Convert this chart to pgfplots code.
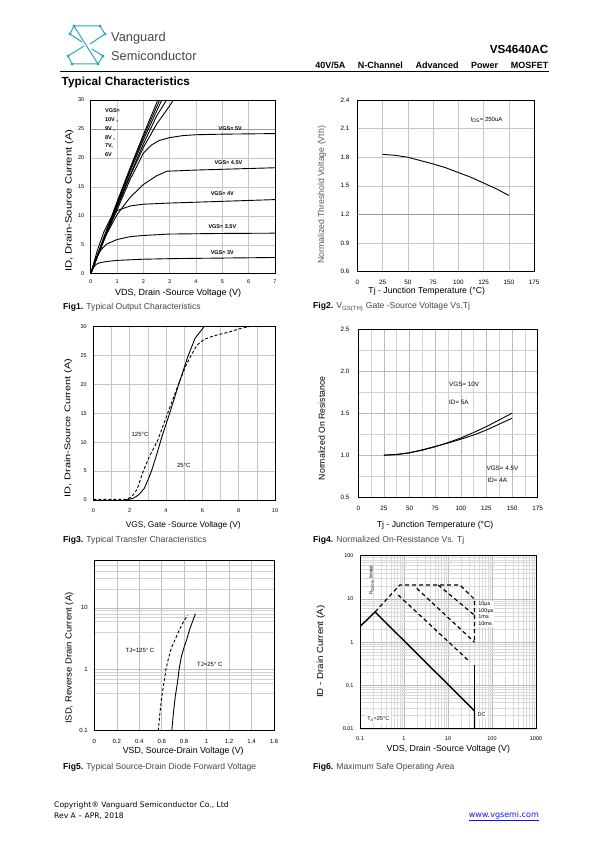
\documentclass[border=0pt]{standalone}
\usepackage{pgfplots}
\pgfplotsset{compat=1.18}
\usepackage{fontspec}
\setmainfont{Liberation Sans}
\newfontfamily\vfont{DejaVu Sans}
\usepackage{graphicx}
\definecolor{logo}{RGB}{40,168,190}
\definecolor{txtgray}{RGB}{70,70,70}
\definecolor{linkblue}{RGB}{20,20,230}
\tikzset{ann/.style={font=\fontsize{6}{7}\selectfont, inner sep=0.5pt},
         figcap/.style={anchor=west, font=\fontsize{8.6}{10}\selectfont, inner sep=0pt}}
\pgfplotsset{
  ds/.style={scale only axis, anchor=south west, clip=true,
    axis line style={black, line width=0.9pt},
    major tick length=0pt, minor tick length=0pt,
    tick label style={font=\fontsize{6}{7}\selectfont},
    yticklabel style={xshift=-3pt},
    label style={font=\fontsize{8.8}{10}\selectfont},
    /pgf/number format/assume math mode=true,
    major grid style={draw=gray!45, line width=0.5pt},
    minor grid style={draw=gray!30, line width=0.4pt},
    every axis x label/.style={at={(axis description cs:0.5,0)}, anchor=center},
    every axis y label/.style={at={(axis description cs:0,0.5)}, anchor=center, rotate=90},
    every axis plot/.append style={black, line width=0.9pt, mark=none},
    cycle list={{black, solid, line width=0.9pt, mark=none}},
  },
}
\begin{document}
\begin{tikzpicture}
\fill[white] (0,0) rectangle (595pt,-842pt);
\path[use as bounding box] (0,0) rectangle (595pt,-842pt);

% ---------- header ----------
\begin{scope}[logo, line width=1pt]
\draw (74pt,-26pt) -- (100pt,-26pt) -- (105pt,-34pt) -- (90pt,-44pt);
\draw (74pt,-26pt) -- (98pt,-64pt);
\draw (74pt,-26pt) -- (70pt,-34pt) -- (82pt,-42pt);
\draw (98pt,-64pt) -- (72pt,-64pt) -- (68pt,-56pt) -- (84pt,-46pt);
\draw (98pt,-64pt) -- (103pt,-56pt) -- (92pt,-49pt);
\foreach \p in {(74pt,-26pt),(100pt,-26pt),(105pt,-34pt),(70pt,-34pt),(98pt,-64pt),(72pt,-64pt),(68pt,-56pt),(103pt,-56pt)}
  \fill \p circle (1.6pt);
\end{scope}
\node[anchor=west, inner sep=0pt, text=txtgray, font=\fontsize{12.8}{14}\selectfont] at (111pt,-38.5pt) {Vanguard};
\node[anchor=west, inner sep=0pt, text=txtgray, font=\fontsize{12.8}{14}\selectfont] at (111pt,-55.5pt) {Semiconductor};
\node[anchor=east, inner sep=0pt, font=\bfseries\fontsize{11.7}{13}\selectfont] at (548.5pt,-49.5pt) {VS4640AC};
\node[anchor=east, inner sep=0pt, font=\bfseries\fontsize{9}{10}\selectfont] at (548.5pt,-65pt) {\makebox[233pt][s]{40V/5A N-Channel Advanced Power MOSFET}};
\draw[black, line width=0.7pt] (60pt,-71.5pt) -- (549pt,-71.5pt);
\node[anchor=west, inner sep=0pt, font=\bfseries\fontsize{11.8}{13}\selectfont] at (61.5pt,-82.5pt) {Typical Characteristics};

% ---------- Fig 1 ----------
\begin{axis}[ds, at={(90.7pt,-273.7pt)}, width=184.3pt, height=173.7pt,
  xmin=0, xmax=7, ymin=0, ymax=30, xtick={0,...,7}, ytick={0,5,...,30},
  grid=major, tick label style={font=\fontsize{5.5}{6}\selectfont},
  xticklabel style={yshift=-2pt},
  xlabel={VDS, Drain -Source Voltage (V)},
  ylabel={\scalebox{1.25}[1]{ID, Drain-Source Current (A)}},
  xlabel style={at={(axis description cs:0.474,-0.11)}, font=\fontsize{9}{10}\selectfont},
  ylabel style={at={(axis description cs:-0.116,0.421)}, font=\fontsize{9}{10}\selectfont}]
\draw[gray!80, line width=0.6pt] (axis cs:0,25) -- (axis cs:7,25);
\addplot coordinates {(0,0)(0.5,6.3)(1,12.4)(1.5,18.3)(2,24)(2.55,30)};
\addplot coordinates {(0,0)(0.5,6.2)(1,12.2)(1.5,18)(2,23.6)(2.62,30)};
\addplot coordinates {(0,0)(0.5,6.1)(1,12)(1.5,17.7)(2,23.1)(2.7,30)};
\addplot coordinates {(0,0)(0.5,6)(1,11.7)(1.5,17.1)(2,22.4)(2.5,27.2)(2.88,30)};
\addplot coordinates {(0,0)(0.5,5.9)(1,11.4)(1.5,16.9)(2,21.8)(2.5,25.8)(3,29)(3.14,30)};
\addplot coordinates {(0,0)(0.5,5.8)(1,11)(1.5,16.3)(2,20.8)(2.3,22.2)(2.6,23)(3,23.5)(3.5,23.85)(4,24)(5,24.1)(7,24.2)};
\addplot coordinates {(0,0)(0.3,3.5)(0.6,6.8)(1,10.2)(1.5,13.2)(2,15.4)(2.5,16.9)(2.9,17.7)(4,17.9)(7,18.3)};
\addplot coordinates {(0,0)(0.25,4)(0.5,7.2)(0.75,9.5)(1,10.9)(1.5,11.7)(2,12)(3,12.2)(5,12.5)(7,12.8)};
\addplot coordinates {(0,0)(0.2,2.6)(0.4,4.2)(0.6,5.1)(1,5.9)(1.5,6.4)(2,6.6)(3,6.85)(5,6.95)(7,7.0)};
\addplot coordinates {(0,0)(0.1,1)(0.2,1.6)(0.35,1.9)(0.6,2.1)(1,2.3)(2,2.5)(3,2.6)(5,2.7)(7,2.8)};
\node[ann, anchor=north west, align=left, font=\bfseries\fontsize{5.5}{8.8}\selectfont] at (axis cs:0.52,28.6) {VGS=\\10V ,\\9V ,\\8V ,\\7V,\\6V};
\node[ann, font=\bfseries\fontsize{5.5}{6}\selectfont] at (axis cs:5.3,25.1) {VGS= 5V};
\node[ann, font=\bfseries\fontsize{5.5}{6}\selectfont] at (axis cs:5.23,19.2) {VGS= 4.5V};
\node[ann, font=\bfseries\fontsize{5.5}{6}\selectfont] at (axis cs:5.0,13.8) {VGS= 4V};
\node[ann, font=\bfseries\fontsize{5.5}{6}\selectfont] at (axis cs:5.0,8.1) {VGS= 3.5V};
\node[ann, font=\bfseries\fontsize{5.5}{6}\selectfont] at (axis cs:5.0,3.7) {VGS= 3V};
\end{axis}
\node[figcap] at (63pt,-307pt) {\textbf{Fig1.} \textcolor{txtgray}{Typical Output Characteristics}};

% ---------- Fig 2 ----------
\begin{axis}[ds, at={(357.3pt,-271.7pt)}, width=176.7pt, height=171.7pt,
  xmin=0, xmax=175, ymin=0.6, ymax=2.4, xtick={0,25,...,175},
  ytick={0.6,0.9,1.2,1.5,1.8,2.1,2.4}, yticklabels={0.6,0.9,1.2,1.5,1.8,2.1,2.4},
  grid=major, tick label style={font=\fontsize{6.3}{7}\selectfont},
  xticklabel style={yshift=-5pt}, yticklabel style={xshift=-1.5pt},
  xlabel={Tj - Junction Temperature (°C)},
  ylabel={Normalized Threshold Voltage (Vth)},
  xlabel style={at={(axis description cs:0.393,-0.112)}, font=\fontsize{8.7}{10}\selectfont},
  ylabel style={at={(axis description cs:-0.201,0.447)}, font=\fontsize{8.7}{10}\selectfont, text=black!65}]
\draw[gray!80, line width=0.6pt] (axis cs:0,1.2) -- (axis cs:175,1.2);
\addplot coordinates {(25,1.83)(37.5,1.82)(50,1.80)(62.5,1.765)(75,1.73)(87.5,1.69)(100,1.64)(112.5,1.59)(125,1.53)(137.5,1.47)(150,1.40)};
\node[ann, font=\fontsize{6}{7}\selectfont] at (axis cs:128,2.19) {I\textsubscript{DS}= 250uA};
\end{axis}
\node[figcap] at (313pt,-307pt) {\textbf{Fig2.} \textcolor{txtgray}{V\textsubscript{GS(TH)} Gate -Source Voltage Vs.Tj}};

% ---------- Fig 3 ----------
\begin{axis}[ds, at={(93.3pt,-500pt)}, width=181.7pt, height=173.3pt,
  xmin=0, xmax=10, ymin=0, ymax=30, xtick={0,2,...,10}, minor xtick={1,3,5,7,9},
  ytick={0,5,...,30}, grid=both, minor grid style={draw=gray!45, line width=0.5pt},
  tick label style={font=\fontsize{5.5}{6}\selectfont}, xticklabel style={yshift=-5pt},
  xlabel={VGS, Gate -Source Voltage (V)},
  ylabel={\scalebox{1.32}[1]{ID, Drain-Source Current (A)}},
  xlabel style={at={(axis description cs:0.495,-0.144)}, font=\fontsize{8.3}{10}\selectfont},
  ylabel style={at={(axis description cs:-0.138,0.415)}, font=\fontsize{8.3}{10}\selectfont}]
\addplot coordinates {(1.8,0)(2.2,0.3)(2.5,0.9)(2.8,2)(3.0,3.4)(3.2,5)(3.5,8)(3.8,11.2)(4.2,15)(4.7,20)(5.2,24.8)(5.6,28)(6.1,30)};
\addplot[dashed, dash pattern=on 3pt off 2pt] coordinates {(0,0.1)(1.8,0.1)(2.1,0.5)(2.4,1.8)(2.75,5)(3.1,7.6)(3.54,10.3)(4.09,15)(4.68,20)(5.1,23.3)(5.38,25)(5.7,26.8)(6.1,27.8)(6.6,28.4)(7.5,29.1)(8.1,29.7)(8.6,30)};
\node[ann] at (axis cs:2.57,11.4) {125°C};
\node[ann] at (axis cs:4.98,5.9) {25°C};
\end{axis}
\node[figcap] at (63pt,-540pt) {\textbf{Fig3.} \textcolor{txtgray}{Typical Transfer Characteristics}};

% ---------- Fig 4 ----------
\begin{axis}[ds, at={(358.3pt,-497.3pt)}, width=179.4pt, height=168.3pt,
  xmin=0, xmax=175, ymin=0.5, ymax=2.5, xtick={0,25,...,175}, minor xtick={12.5,37.5,...,162.5},
  ytick={0.5,1,1.5,2,2.5}, yticklabels={0.5,1.0,1.5,2.0,2.5}, minor ytick={0.75,1.25,1.75,2.25},
  grid=both, major grid style={draw=gray!55, line width=0.5pt}, minor grid style={draw=gray!35, line width=0.5pt},
  tick label style={font=\fontsize{6.3}{7}\selectfont}, xticklabel style={yshift=-5.5pt},
  yticklabel style={xshift=-2.5pt},
  xlabel={Tj - Junction Temperature (°C)},
  ylabel={Normalized On Resistance},
  xlabel style={at={(axis description cs:0.428,-0.168)}, font=\fontsize{8.7}{10}\selectfont},
  ylabel style={at={(axis description cs:-0.204,0.41)}, font=\fontsize{8.7}{10}\selectfont}]
\addplot coordinates {(25,1.0)(37.5,1.008)(50,1.028)(62.5,1.06)(75,1.10)(87.5,1.15)(100,1.205)(112.5,1.27)(125,1.34)(137.5,1.42)(150,1.5)};
\addplot coordinates {(25,1.0)(37.5,1.01)(50,1.03)(62.5,1.065)(75,1.105)(87.5,1.145)(100,1.19)(112.5,1.24)(125,1.3)(137.5,1.37)(150,1.44)};
\node[ann, anchor=west, font=\fontsize{6.3}{7}\selectfont] at (axis cs:88,1.84) {VGS= 10V};
\node[ann, anchor=west, font=\fontsize{6.3}{7}\selectfont] at (axis cs:88,1.63) {ID= 5A};
\node[ann, anchor=west, font=\fontsize{6.3}{7}\selectfont] at (axis cs:124.5,0.84) {VGS= 4.5V};
\node[ann, anchor=west, font=\fontsize{6.3}{7}\selectfont] at (axis cs:125.5,0.70) {ID= 4A};
\end{axis}
\node[figcap] at (313pt,-540pt) {\textbf{Fig4.} \textcolor{txtgray}{Normalized On-Resistance Vs. Tj}};

% ---------- Fig 5 ----------
\begin{axis}[ds, at={(94.3pt,-730.7pt)}, width=179.7pt, height=170.7pt,
  ymode=log, xmin=0, xmax=1.6, ymin=0.1, ymax=60,
  xtick={0,0.2,...,1.6}, xticklabels={0,0.2,0.4,0.6,0.8,1,1.2,1.4,1.6},
  ytick={0.1,1,10}, yticklabels={0.1,1,10},
  minor ytick={0.4,0.6,0.7,0.8,0.9,4,6,7,8,9,20,30,40,50},
  grid=both, major grid style={draw=gray!50, line width=0.5pt}, minor grid style={draw=gray!35, line width=0.45pt},
  tick label style={font=\fontsize{6}{7}\selectfont}, xticklabel style={yshift=-5pt},
  xlabel={VSD, Source-Drain Voltage (V)},
  ylabel={\scalebox{1.08}[1]{ISD, Reverse Drain Current (A)}},
  xlabel style={at={(axis description cs:0.495,-0.123)}, font=\fontsize{8.8}{10}\selectfont},
  ylabel style={at={(axis description cs:-0.139,0.425)}, font=\fontsize{8.8}{10}\selectfont}]
\addplot coordinates {(0.69,0.1)(0.705,0.2)(0.72,0.35)(0.74,0.6)(0.755,1)(0.775,1.6)(0.8,2.3)(0.822,3)(0.85,4.5)(0.875,6)(0.9,8)};
\addplot[dashed, dash pattern=on 3pt off 2pt] coordinates {(0.57,0.1)(0.585,0.2)(0.6,0.35)(0.62,0.6)(0.638,1)(0.66,1.5)(0.685,2.2)(0.718,3)(0.76,4.5)(0.8,6.2)(0.83,7.5)};
\node[ann, anchor=west] at (axis cs:0.273,2.03) {TJ=125° C};
\node[ann, anchor=west] at (axis cs:0.91,1.19) {TJ=25° C};
\end{axis}
\node[figcap] at (63pt,-767pt) {\textbf{Fig5.} \textcolor{txtgray}{Typical Source-Drain Diode Forward Voltage}};

% ---------- Fig 6 ----------
\begin{axis}[ds, at={(360pt,-728.7pt)}, width=176pt, height=173pt,
  xmode=log, ymode=log, xmin=0.1, xmax=1000, ymin=0.01, ymax=100,
  xtick={0.1,1,10,100,1000}, xticklabels={0.1,1,10,100,1000},
  ytick={0.01,0.1,1,10,100}, yticklabels={0.01,0.1,1,10,100},
  grid=both, major grid style={draw=gray!55, line width=0.5pt}, minor grid style={draw=gray!30, line width=0.4pt},
  tick label style={font=\fontsize{5.5}{6}\selectfont}, xticklabel style={yshift=-4.5pt},
  xlabel={VDS, Drain -Source Voltage (V)},
  ylabel={\scalebox{1.1}[1]{ID - Drain Current (A)}},
  xlabel style={at={(axis description cs:0.502,-0.117)}, font=\fontsize{8.8}{10}\selectfont},
  ylabel style={at={(axis description cs:-0.223,0.445)}, font=\fontsize{8.8}{10}\selectfont}]
\addplot[line width=1.4pt] coordinates {(0.1,2.3)(0.22,5)(40,0.026)(40,0.01)};
\addplot[line width=1.4pt] coordinates {(40,0.3)(40,0.026)};
\addplot[line width=1.2pt, dash pattern=on 4pt off 3pt] coordinates {(0.22,5)(0.8,21)(18.7,21)(40,9.8)(40,1.0)};
\addplot[line width=1.2pt, dash pattern=on 4pt off 3pt] coordinates {(6,21)(40,4.2)};
\addplot[line width=1.2pt, dash pattern=on 4pt off 3pt] coordinates {(1.95,17.6)(40,1.0)};
\addplot[line width=1.2pt, dash pattern=on 4pt off 3pt] coordinates {(0.74,12.3)(31.6,0.35)};
\node[ann, rotate=90, font=\fontsize{4.5}{5}\selectfont] at (axis cs:0.185,27) {R\textsubscript{DS(ON)} limited};
\node[ann, anchor=north west, align=left, fill=white, inner sep=1pt, font=\fontsize{5.5}{6.7}\selectfont] at (axis cs:46,9.2) {10µs\\100µs\\1ms\\10ms};
\node[ann, fill=white, inner sep=1.5pt, font=\fontsize{5.5}{6}\selectfont] at (axis cs:58,0.0207) {DC};
\node[ann, fill=white, inner sep=1.5pt, font=\fontsize{5.5}{6}\selectfont] at (axis cs:0.26,0.0168) {T\textsubscript{A}=25°C};
\end{axis}
\node[figcap] at (313pt,-767pt) {\textbf{Fig6.} \textcolor{txtgray}{Maximum Safe Operating Area}};

% ---------- footer ----------
\node[anchor=west, inner sep=0pt, font=\vfont\fontsize{7.6}{8}\selectfont] at (54pt,-805pt) {Copyright® Vanguard Semiconductor Co., Ltd};
\node[anchor=west, inner sep=0pt, font=\vfont\fontsize{7.6}{8}\selectfont] at (54pt,-816pt) {Rev A – APR, 2018};
\node[anchor=east, inner sep=0pt, text=linkblue, font=\vfont\fontsize{8}{8}\selectfont] at (539pt,-816pt) {\underline{www.vgsemi.com}};
\end{tikzpicture}
\end{document}
